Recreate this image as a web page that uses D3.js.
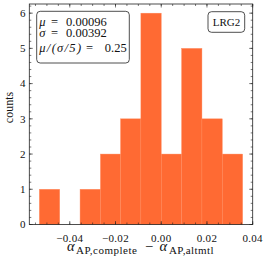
<!DOCTYPE html>
<html>
<head>
<meta charset="utf-8">
<style>
    body { margin: 0; background: white; }
    svg { display: block; font-family: 'Liberation Serif', 'DejaVu Serif', serif; fill: #111; }
</style>
</head>
<body>
<svg width="266" height="259"></svg>
<script src="https://d3js.org/d3.v7.min.js"></script>
<script>
    // histogram of alpha_AP differences
    let binEdges = [-0.0533, -0.0444, -0.0355, -0.0266, -0.0178, -0.0089, 0.0000, 0.0089, 0.0178, 0.0267, 0.0356];
    let counts = [1, 0, 1, 2, 3, 6, 2, 5, 3, 2];
    let xTicks = [-0.04, -0.02, 0.00, 0.02, 0.04];
    let yTicks = [0, 1, 2, 3, 4, 5, 6];
    let statSymbols = ["μ", "σ", "μ/(σ/5)"];
    let statValues = ["0.00096", "0.00392", "0.25"];
    let tracer = "LRG2";

    let svg = d3.select("svg")
    let pl = 29.3, pr = 252.7, pt = 4, pb = 224.5

    let x = d3.scaleLinear().domain([-0.0577, 0.04]).range([pl, pr])
    let y = d3.scaleLinear().domain([0, 6.26]).range([pb, pt])

    let bins = counts.map((c, i) => ({x0: binEdges[i], x1: binEdges[i + 1], n: c}))

    svg.append("g")
        .selectAll("rect")
        .data(bins.filter(d => d.n > 0))
        .join("rect")
        .attr("x", d => x(d.x0))
        .attr("width", d => x(d.x1) - x(d.x0))
        .attr("y", d => y(d.n))
        .attr("height", d => y(0) - y(d.n))
        .style("fill", "#ff6a33")
        .style("stroke", "#ff8a5c")
        .style("stroke-width", 0.4)

    let xMinor = d3.range(-0.055, 0.0401, 0.005)
    let yMinor = d3.range(0, 6.21, 0.2)

    // inward ticks on all sides
    let tk = svg.append("g").style("stroke", "#222").style("stroke-width", 0.6)
    let xt = (vals, len) => {
        vals.forEach(v => {
            tk.append("line").attr("x1", x(v)).attr("x2", x(v)).attr("y1", pb).attr("y2", pb - len)
            tk.append("line").attr("x1", x(v)).attr("x2", x(v)).attr("y1", pt).attr("y2", pt + len)
        })
    }
    let yt = (vals, len) => {
        vals.forEach(v => {
            tk.append("line").attr("y1", y(v)).attr("y2", y(v)).attr("x1", pl).attr("x2", pl + len)
            tk.append("line").attr("y1", y(v)).attr("y2", y(v)).attr("x1", pr).attr("x2", pr - len)
        })
    }
    xt(xMinor, 2)
    xt(xTicks, 3.5)
    yt(yMinor, 2)
    yt(yTicks, 3.5)

    svg.append("rect")
        .attr("x", pl).attr("y", pt)
        .attr("width", pr - pl).attr("height", pb - pt)
        .style("fill", "none").style("stroke", "#222").style("stroke-width", 0.8)

    let fmt = d3.format(".2f")
    svg.append("g").selectAll("text")
        .data(xTicks)
        .join("text")
        .attr("x", d => x(d))
        .attr("y", 241.5)
        .attr("text-anchor", "middle")
        .style("font-size", "11px")
        .style("letter-spacing", "0.3px")
        .text(d => fmt(d).replace("-", "\u2212"))

    svg.append("g").selectAll("text")
        .data(yTicks)
        .join("text")
        .attr("x", 25.5)
        .attr("y", d => y(d) + 3.8)
        .attr("text-anchor", "end")
        .style("font-size", "11px")
        .text(d => d)

    svg.append("text")
        .attr("transform", "translate(12.5,107.5) rotate(-90)")
        .attr("text-anchor", "middle")
        .style("font-size", "12px")
        .text("counts")

    // x label: alpha_AP,complete - alpha_AP,altmtl
    let xl = svg.append("text").attr("y", 250.5).style("font-size", "14.5px")
    xl.append("tspan").attr("x", 67).style("font-style", "italic").text("α")
    xl.append("tspan").attr("x", 76).attr("dy", 3).style("font-size", "11px")
        .style("letter-spacing", "0.5px").text("AP,complete")
    xl.append("tspan").attr("x", 145).attr("dy", -3).text("−")
    xl.append("tspan").attr("x", 159.5).style("font-style", "italic").text("α")
    xl.append("tspan").attr("x", 169).attr("dy", 3).style("font-size", "11px")
        .style("letter-spacing", "0.4px").text("AP,altmtl")

    // stats box
    svg.append("rect")
        .attr("x", 36.7).attr("y", 11.3).attr("width", 92.6).attr("height", 51.7)
        .attr("rx", 3.5)
        .style("fill", "white").style("stroke", "#222").style("stroke-width", 0.8)
    let lineY = [25.5, 36.5, 52]
    let eqX = [51, 51, 86]
    let valX = [66, 66, 104.8]
    statSymbols.forEach((s, i) => {
        let t = svg.append("text")
            .attr("y", lineY[i])
            .style("font-size", "12.5px")
        t.append("tspan").attr("x", 39.3).style("font-style", "italic")
            .style("letter-spacing", i == 2 ? "1.3px" : "0px").text(s)
        t.append("tspan").attr("x", eqX[i]).text("=")
        t.append("tspan").attr("x", valX[i]).text(statValues[i])
    })

    svg.append("rect")
        .attr("x", 208).attr("y", 11.7).attr("width", 36.7).attr("height", 20.6)
        .attr("rx", 3.5)
        .style("fill", "white").style("stroke", "#222").style("stroke-width", 0.8)
    svg.append("text")
        .attr("x", 226.5).attr("y", 25.8)
        .attr("text-anchor", "middle")
        .style("font-size", "11px")
        .text(tracer)
</script>
</body>
</html>
